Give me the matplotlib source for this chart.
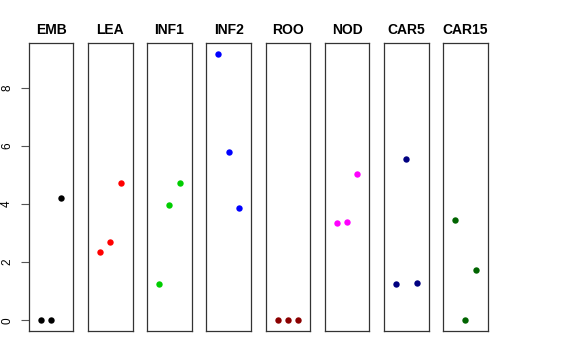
import matplotlib
matplotlib.use('Agg')
import matplotlib.pyplot as plt

plt.rcParams['font.family'] = ['Liberation Sans', 'DejaVu Sans']

groups = ['EMB', 'LEA', 'INF1', 'INF2', 'ROO', 'NOD', 'CAR5', 'CAR15']
colors = ['black', 'red', '#00CD00', 'blue', '#8B0000', 'magenta', '#000080', '#006400']
values = [
    [0.0, 0.0, 4.22],
    [2.36, 2.68, 4.73],
    [1.24, 3.98, 4.71],
    [9.17, 5.79, 3.85],
    [0.0, 0.0, 0.0],
    [3.34, 3.39, 5.02],
    [1.26, 5.54, 1.28],
    [3.45, 0.0, 1.73],
]
xpos = [1, 2, 3]

W, H = 576, 360
fig = plt.figure(figsize=(W / 100, H / 100), dpi=100)

ymax = 9.17
ypad = ymax * 0.04
for i, (name, col, vals) in enumerate(zip(groups, colors, values)):
    left = 28.7 + i * 59.2
    ax = fig.add_axes([left / W, 29 / H, 44.7 / W, 288 / H])
    ax.plot(xpos, vals, 'o', color=col, markersize=4.6, markeredgewidth=0)
    ax.set_xlim(-0.16, 4.16)
    ax.set_ylim(-ypad, ymax + ypad)
    ax.set_xticks([])
    ax.set_title(name, fontsize=10, fontweight='bold', pad=6.5)
    for s in ax.spines.values():
        s.set_linewidth(0.9)
        s.set_color('#333333')
    if i == 0:
        ax.set_yticks([0, 2, 4, 6, 8])
        ax.tick_params(axis='y', length=5.8, width=0.8, color='#555555',
                       labelsize=8.5, pad=5.5)
        for lab in ax.get_yticklabels():
            lab.set_rotation(90)
            lab.set_va('center')
    else:
        ax.set_yticks([])

fig.savefig('out.png', dpi=100)
